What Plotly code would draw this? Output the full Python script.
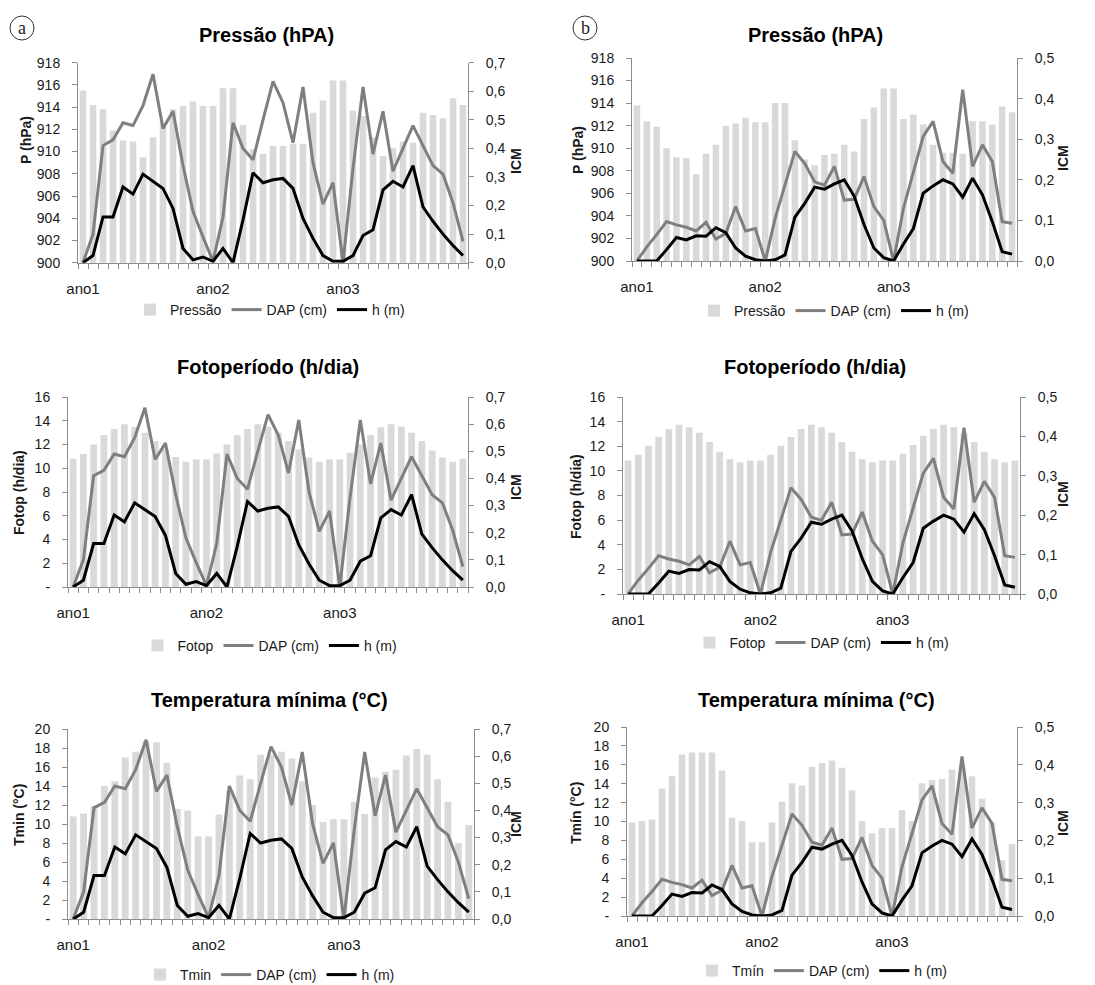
import plotly.graph_objects as go

# ---------------- data ----------------
periods = list(range(1, 40))
year_ticks = [1, 14, 27]
year_labels = ["ano1", "ano2", "ano3"]

# climate bars, column (a)
pressao_a = [915.5, 914.2, 913.8, 911.9, 911.0, 910.9, 909.5, 911.3, 912.6, 913.8,
             914.1, 914.5, 914.1, 914.1, 915.7, 915.7, 912.4, 910.2, 909.8, 910.5,
             910.5, 910.7, 910.7, 913.5, 914.6, 916.4, 916.4, 913.7, 913.2, 911.3,
             909.6, 910.3, 910.9, 910.8, 913.5, 913.3, 913.0, 914.8, 914.2]
fotop_a = [10.8, 11.2, 12.0, 12.8, 13.3, 13.7, 13.5, 13.0, 12.3, 11.6,
           10.95, 10.55, 10.75, 10.75, 11.25, 12.0, 12.8, 13.3, 13.7, 13.5,
           13.0, 12.3, 11.6, 10.9, 10.55, 10.75, 10.75, 11.3, 12.0, 12.8,
           13.45, 13.7, 13.5, 13.0, 12.3, 11.5, 10.9, 10.55, 10.8]
tmin_a = [10.8, 11.1, 11.9, 14.0, 14.5, 17.0, 17.6, 18.7, 18.6, 16.45,
          11.6, 11.4, 8.7, 8.7, 11.0, 13.5, 15.1, 14.7, 17.3, 17.3,
          17.6, 16.9, 14.5, 12.0, 10.2, 10.5, 10.5, 12.35, 11.05, 14.9,
          15.5, 15.7, 17.2, 17.9, 17.3, 14.7, 12.35, 8.0, 9.9]

# climate bars, column (b)
pressao_b = [913.8, 912.4, 911.9, 910.0, 909.2, 909.1, 907.7, 909.5, 910.3, 912.0,
             912.2, 912.7, 912.3, 912.3, 914.0, 914.0, 910.7, 909.0, 908.5, 909.4,
             909.5, 910.3, 909.7, 912.6, 913.6, 915.3, 915.3, 912.6, 913.0, 912.1,
             910.3, 909.6, 909.6, 909.5, 912.4, 912.4, 912.1, 913.7, 913.2]
fotop_b = [10.85, 11.3, 12.05, 12.75, 13.4, 13.75, 13.55, 13.1, 12.35, 11.55,
           10.95, 10.7, 10.85, 10.85, 11.3, 12.05, 12.75, 13.4, 13.75, 13.55,
           13.1, 12.35, 11.55, 10.95, 10.7, 10.85, 10.85, 11.4, 12.1, 12.85,
           13.4, 13.75, 13.55, 13.1, 12.35, 11.55, 10.95, 10.7, 10.85]
tmin_b = [9.9, 10.05, 10.2, 13.5, 14.8, 17.1, 17.3, 17.3, 17.3, 15.4,
          10.4, 10.05, 7.8, 7.8, 9.9, 12.1, 14.05, 13.8, 15.8, 16.2,
          16.45, 15.7, 13.3, 10.05, 8.75, 9.3, 9.3, 11.2, 10.05, 14.05,
          14.4, 14.5, 15.5, 15.9, 14.8, 12.4, 9.9, 5.9, 7.6]

# ICM series
dap_a = [0.00, 0.10, 0.41, 0.43, 0.49, 0.48, 0.55, 0.66, 0.47, 0.53,
         0.34, 0.18, 0.09, 0.005, 0.16, 0.49, 0.40, 0.36, 0.50, 0.635,
         0.56, 0.42, 0.615, 0.35, 0.205, 0.28, 0.00, 0.33, 0.615, 0.38,
         0.53, 0.32, 0.40, 0.48, 0.41, 0.34, 0.31, 0.21, 0.075]
h_a = [0.00, 0.025, 0.16, 0.16, 0.265, 0.24, 0.31, 0.285, 0.26, 0.19,
       0.05, 0.01, 0.02, 0.005, 0.05, 0.00, 0.15, 0.315, 0.28, 0.29,
       0.295, 0.26, 0.155, 0.085, 0.025, 0.005, 0.005, 0.025, 0.095, 0.115,
       0.255, 0.285, 0.265, 0.34, 0.195, 0.145, 0.10, 0.06, 0.025]
dap_b = [0.00, 0.035, 0.065, 0.097, 0.089, 0.083, 0.074, 0.095, 0.054, 0.068,
         0.134, 0.074, 0.08, 0.00, 0.105, 0.19, 0.27, 0.24, 0.195, 0.187,
         0.233, 0.15, 0.152, 0.208, 0.134, 0.10, 0.00, 0.13, 0.216, 0.307,
         0.344, 0.245, 0.216, 0.422, 0.233, 0.286, 0.245, 0.097, 0.093]
h_b = [0.0, 0.0, 0.0, 0.028, 0.058, 0.052, 0.062, 0.061, 0.082, 0.07,
       0.032, 0.012, 0.003, 0.0, 0.003, 0.015, 0.108, 0.142, 0.182, 0.177,
       0.19, 0.2, 0.16, 0.09, 0.032, 0.008, 0.0, 0.042, 0.08, 0.167,
       0.185, 0.2, 0.19, 0.157, 0.204, 0.163, 0.097, 0.023, 0.017]

W, H = 1095, 985
OFF = 8  # page body margin offset
FONT = "Liberation Sans, Arial, sans-serif"
AXC = "#8c8c8c"
TXT = "#1a1a1a"
BAR = "#d9d9d9"
DAPC = "#7f7f7f"

def px(x):
    return (x - OFF) / W

def py(y):
    return 1 - (y - OFF) / H

panels = [
    dict(bars=pressao_a, name="Pressão", yr=[900, 918], tv=list(range(900, 919, 2)),
         tt=[str(v) for v in range(900, 919, 2)], icm=0.7, dap=dap_a, h=h_a,
         box=(78, 468, 62.7, 262.7), title="Pressão (hPA)", tx=266, ty=35,
         ytitle="P (hPa)", ytx=26, yty=140, icx=516, icy=161, leg=(270, 310)),
    dict(bars=pressao_b, name="Pressão", yr=[900, 918], tv=list(range(900, 919, 2)),
         tt=[str(v) for v in range(900, 919, 2)], icm=0.5, dap=dap_b, h=h_b,
         box=(632, 1017, 58, 261), title="Pressão (hPA)", tx=815, ty=35,
         ytitle="P (hPa)", ytx=578, yty=150, icx=1063, icy=158, leg=(834, 311)),
    dict(bars=fotop_a, name="Fotop", yr=[0, 16], tv=list(range(0, 17, 2)),
         tt=["-"] + [str(v) for v in range(2, 17, 2)], icm=0.7, dap=dap_a, h=h_a,
         box=(68, 468, 397, 587), title="Fotoperíodo (h/dia)", tx=268, ty=367,
         ytitle="Fotop (h/dia)", ytx=19, yty=493, icx=516, icy=487, leg=(270, 646)),
    dict(bars=fotop_b, name="Fotop", yr=[0, 16], tv=list(range(0, 17, 2)),
         tt=["-"] + [str(v) for v in range(2, 17, 2)], icm=0.5, dap=dap_b, h=h_b,
         box=(623, 1020, 397, 594), title="Fotoperíodo (h/dia)", tx=815, ty=367,
         ytitle="Fotop (h/dia)", ytx=576, yty=497, icx=1063, icy=494, leg=(822, 643)),
    dict(bars=tmin_a, name="Tmin", yr=[0, 20], tv=list(range(0, 21, 2)),
         tt=["-"] + [str(v) for v in range(2, 21, 2)], icm=0.7, dap=dap_a, h=h_a,
         box=(68, 474, 729, 919), title="Temperatura mínima (°C)", tx=269, ty=700,
         ytitle="Tmin (°C)", ytx=19, yty=815, icx=516, icy=824, leg=(270, 975)),
    dict(bars=tmin_b, name="Tmín", yr=[0, 20], tv=list(range(0, 21, 2)),
         tt=["-"] + [str(v) for v in range(2, 21, 2)], icm=0.5, dap=dap_b, h=h_b,
         box=(627, 1017, 727, 916), title="Temperatura mínima (°C)", tx=816, ty=700,
         ytitle="Tmín (°C)", ytx=576, yty=813, icx=1063, icy=823, leg=(822, 971)),
]

fig = go.Figure()
layout = dict(
    width=W, height=H, margin=dict(l=0, r=0, t=0, b=0, autoexpand=False),
    paper_bgcolor="white", plot_bgcolor="white",
    font=dict(family=FONT, color=TXT, size=14),
    separators=",.", bargap=0.34, showlegend=True,
)
annotations = []
shapes = []

for i, p in enumerate(panels):
    k = i + 1
    xa = "x" if k == 1 else f"x{k}"
    yl_id = 2 * k - 1
    yr_id = 2 * k
    yl = "y" if yl_id == 1 else f"y{yl_id}"
    yr = f"y{yr_id}"
    leg = "legend" if k == 1 else f"legend{k}"

    fig.add_trace(go.Bar(x=periods, y=p["bars"], name=p["name"], marker_color=BAR,
                         marker_line_width=0, xaxis=xa, yaxis=yl, legend=leg))
    fig.add_trace(go.Scatter(x=periods, y=p["dap"], name="DAP (cm)", mode="lines",
                             line=dict(color=DAPC, width=3), xaxis=xa, yaxis=yr, legend=leg))
    fig.add_trace(go.Scatter(x=periods, y=p["h"], name="h (m)", mode="lines",
                             line=dict(color="black", width=3), xaxis=xa, yaxis=yr, legend=leg))

    x0, x1, yt, yb = p["box"]
    xkey = "xaxis" if k == 1 else f"xaxis{k}"
    layout[xkey] = dict(
        domain=[px(x0), px(x1)], anchor=yl, range=[0.5, 39.5],
        tickmode="array", tickvals=year_ticks, ticktext=year_labels,
        ticks="", showline=True, linecolor=AXC, linewidth=1, showgrid=False,
        zeroline=False, tickfont=dict(size=15, color=TXT), ticklabelstandoff=12,
        automargin=False,
        minor=dict(tickmode="array", tickvals=[v + 0.5 for v in [0] + periods],
                   ticks="outside", ticklen=5, tickcolor=AXC, tickwidth=1, showgrid=False),
    )
    ylkey = "yaxis" if yl_id == 1 else f"yaxis{yl_id}"
    layout[ylkey] = dict(
        domain=[py(yb), py(yt)], anchor=xa, range=p["yr"], automargin=False,
        tickmode="array", tickvals=p["tv"], ticktext=p["tt"],
        ticks="outside", ticklen=5, tickcolor=AXC, showline=True, linecolor=AXC,
        showgrid=False, zeroline=False, tickfont=dict(size=14, color=TXT),
        ticklabelstandoff=9,
    )
    icm_vals = [round(j * 0.1, 1) for j in range(int(round(p["icm"] * 10)) + 1)]
    layout[f"yaxis{yr_id}"] = dict(
        overlaying=yl, side="right", anchor=xa, range=[0, p["icm"]], automargin=False,
        tickmode="array", tickvals=icm_vals, tickformat=".1f",
        ticks="outside", ticklen=5, tickcolor=AXC, showline=True, linecolor=AXC,
        showgrid=False, zeroline=False, tickfont=dict(size=14, color=TXT),
        ticklabelstandoff=9,
    )
    lx, ly = p["leg"]
    layout[leg] = dict(
        orientation="h", x=px(lx), y=py(ly), xanchor="center", yanchor="middle",
        font=dict(size=14, color=TXT), bgcolor="rgba(0,0,0,0)", itemwidth=30,
        traceorder="normal", tracegroupgap=0,
    )
    annotations.append(dict(text=f"<b>{p['title']}</b>", x=px(p["tx"]), y=py(p["ty"]),
                            xref="paper", yref="paper", showarrow=False,
                            xanchor="center", yanchor="middle",
                            font=dict(size=20, color="black", family=FONT)))
    annotations.append(dict(text=f"<b>{p['ytitle']}</b>", x=px(p["ytx"]), y=py(p["yty"]),
                            xref="paper", yref="paper", showarrow=False, textangle=-90,
                            xanchor="center", yanchor="middle",
                            font=dict(size=14, color=TXT, family=FONT)))
    annotations.append(dict(text="<b>ICM</b>", x=px(p["icx"]), y=py(p["icy"]),
                            xref="paper", yref="paper", showarrow=False, textangle=-90,
                            xanchor="center", yanchor="middle",
                            font=dict(size=14, color=TXT, family=FONT)))

# circled panel letters
for letter, cx, cy in [("a", 22, 28), ("b", 585, 28)]:
    r = 12
    shapes.append(dict(type="circle", xref="paper", yref="paper",
                       x0=px(cx - r), x1=px(cx + r), y0=py(cy + r), y1=py(cy - r),
                       line=dict(color="#333333", width=1)))
    annotations.append(dict(text=letter, x=px(cx), y=py(cy), xref="paper", yref="paper",
                            showarrow=False, xanchor="center", yanchor="middle",
                            font=dict(size=18, color="#222222", family="Liberation Serif, serif")))

layout["annotations"] = annotations
layout["shapes"] = shapes
fig.update_layout(**layout)

fig.write_html("out.html")
